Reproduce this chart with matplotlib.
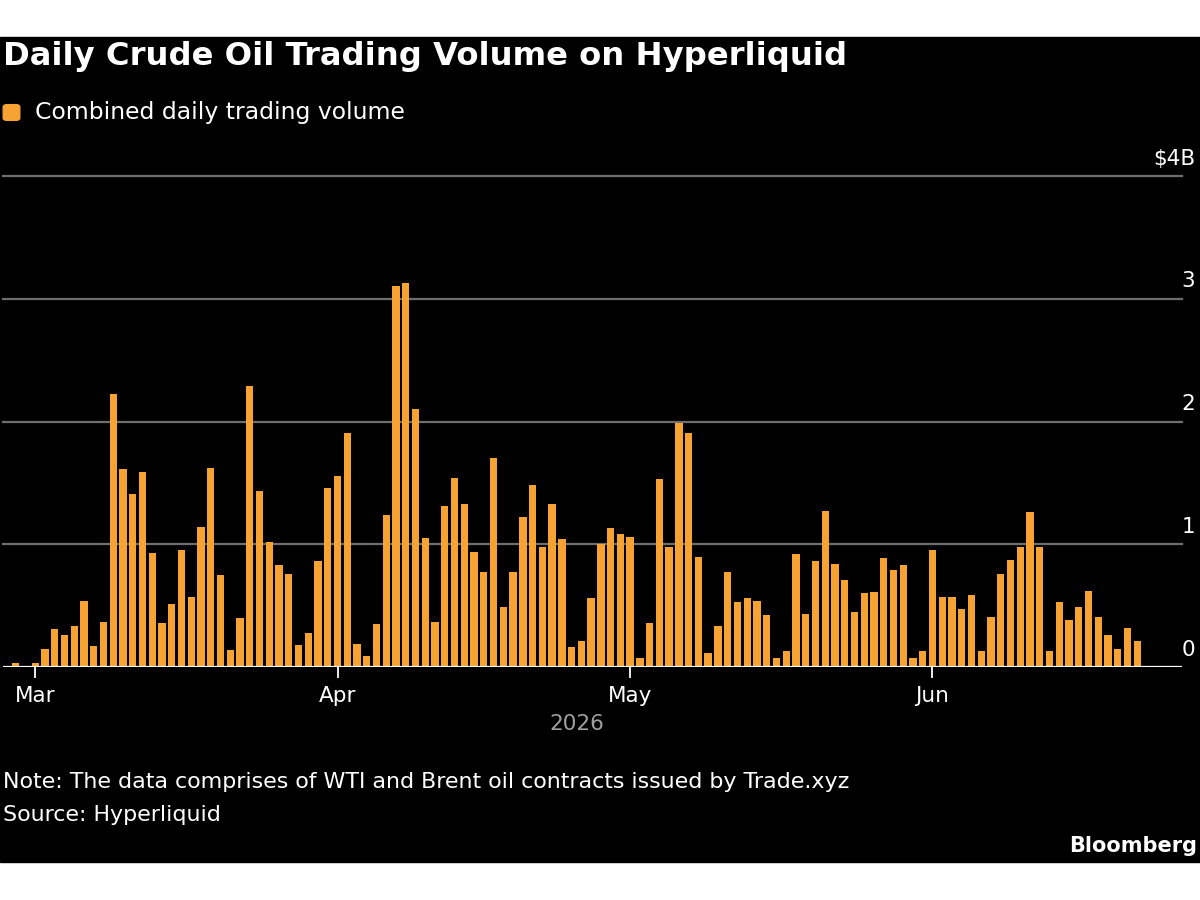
import numpy as np
import pandas as pd
import matplotlib
matplotlib.use('Agg')
import matplotlib.pyplot as plt
import matplotlib.transforms as mtransforms
from matplotlib.patches import Rectangle, FancyBboxPatch

# Daily volume, $B, Feb 27 - Jun 22 2026
dates = pd.date_range('2026-02-27', '2026-06-22', freq='D')

vol_feb = [0.03, 0.0]
vol_mar = [0.03, 0.15, 0.31, 0.26, 0.33, 0.54, 0.17, 0.37, 2.22, 1.61,
           1.41, 1.59, 0.93, 0.36, 0.51, 0.95, 0.57, 1.14, 1.62, 0.75,
           0.14, 0.40, 2.29, 1.43, 1.02, 0.83, 0.76, 0.18, 0.28, 0.86,
           1.46]
vol_apr = [1.56, 1.91, 0.19, 0.09, 0.35, 1.24, 3.10, 3.13, 2.10, 1.05,
           0.37, 1.31, 1.54, 1.33, 0.94, 0.77, 1.70, 0.49, 0.77, 1.22,
           1.48, 0.98, 1.33, 1.04, 0.16, 0.21, 0.56, 1.00, 1.13, 1.08]
vol_may = [1.06, 0.07, 0.36, 1.53, 0.98, 1.99, 1.91, 0.90, 0.11, 0.33,
           0.77, 0.53, 0.56, 0.54, 0.42, 0.07, 0.13, 0.92, 0.43, 0.86,
           1.27, 0.84, 0.71, 0.45, 0.60, 0.61, 0.89, 0.79, 0.83, 0.07,
           0.13]
vol_jun = [0.95, 0.57, 0.57, 0.47, 0.59, 0.13, 0.41, 0.76, 0.87, 0.98,
           1.26, 0.98, 0.13, 0.53, 0.38, 0.49, 0.62, 0.41, 0.26, 0.15,
           0.32, 0.21]
volume = vol_feb + vol_mar + vol_apr + vol_may + vol_jun

yticks = [0, 1, 2, 3, 4]
ytick_labels = ['0', '1', '2', '3', '$4B']
month_ticks = pd.to_datetime(['2026-03-01', '2026-04-01', '2026-05-01', '2026-06-01'])
month_labels = ['Mar', 'Apr', 'May', 'Jun']

orange = '#f6a333'
grey = '#6e6e6e'

plt.rcParams['font.family'] = ['DejaVu Sans']

fig = plt.figure(figsize=(12, 9), dpi=100, facecolor='white')
# black panel behind everything
fig.patches.append(Rectangle((0, 1 - 862 / 900), 1, (862 - 37) / 900,
                             transform=fig.transFigure, color='black', zorder=-5))

ax = fig.add_axes([3 / 1200, 1 - 667 / 900, (1182 - 3) / 1200, (667 - 176) / 900])
ax.set_facecolor('black')

ax.bar(dates, volume, width=0.75, color=orange, zorder=3)

ax.set_ylim(0, 4)
ax.set_xlim(dates[0] - pd.Timedelta(days=1.3), pd.Timestamp('2026-06-26 14:00'))
for y in yticks[1:]:
    ax.axhline(y, color=grey, lw=1.6, zorder=1, clip_on=False)
ax.axhline(0, color='white', lw=1.6, zorder=4)

for s in ax.spines.values():
    s.set_visible(False)
ax.set_yticks([])
ax.set_xticks(month_ticks)
ax.set_xticklabels(month_labels)
ax.tick_params(axis='x', colors='white', length=8, width=1.3, pad=6, labelsize=15.5,
               labelcolor='white')

# y labels above grid lines at right edge
trans = mtransforms.blended_transform_factory(fig.transFigure, ax.transData)
for y, lab in zip(yticks, ytick_labels):
    ax.text(1195 / 1200, y + 0.06, lab, transform=trans, ha='right', va='bottom',
            color='white', fontsize=15.5)

mid = dates[0] + (dates[-1] - dates[0]) / 2
ax.text(mid, -0.38, '2026', ha='center', va='top', color='#a0a0a0', fontsize=15.5,
        clip_on=False)

fig.text(3 / 1200, 1 - 57 / 900, 'Daily Crude Oil Trading Volume on Hyperliquid',
         color='white', fontsize=23.2, fontweight='bold', va='center', ha='left')
fig.patches.append(FancyBboxPatch((5 / 1200, 1 - 119 / 900), 13 / 1200, 13 / 900,
                                  boxstyle='round,pad=0.0015,rounding_size=0.003',
                                  transform=fig.transFigure, color=orange, zorder=2))
fig.text(35 / 1200, 1 - 112 / 900, 'Combined daily trading volume',
         color='white', fontsize=16.9, va='center', ha='left')

fig.text(3 / 1200, 1 - 782 / 900,
         'Note: The data comprises of WTI and Brent oil contracts issued by Trade.xyz',
         color='white', fontsize=15.9, va='center', ha='left')
fig.text(3 / 1200, 1 - 815 / 900, 'Source: Hyperliquid',
         color='white', fontsize=15.9, va='center', ha='left')
fig.text(1197 / 1200, 1 - 846 / 900, 'Bloomberg', color='white', fontsize=15,
         fontweight='bold', va='center', ha='right')

fig.savefig('out.png', dpi=100, facecolor='white')
